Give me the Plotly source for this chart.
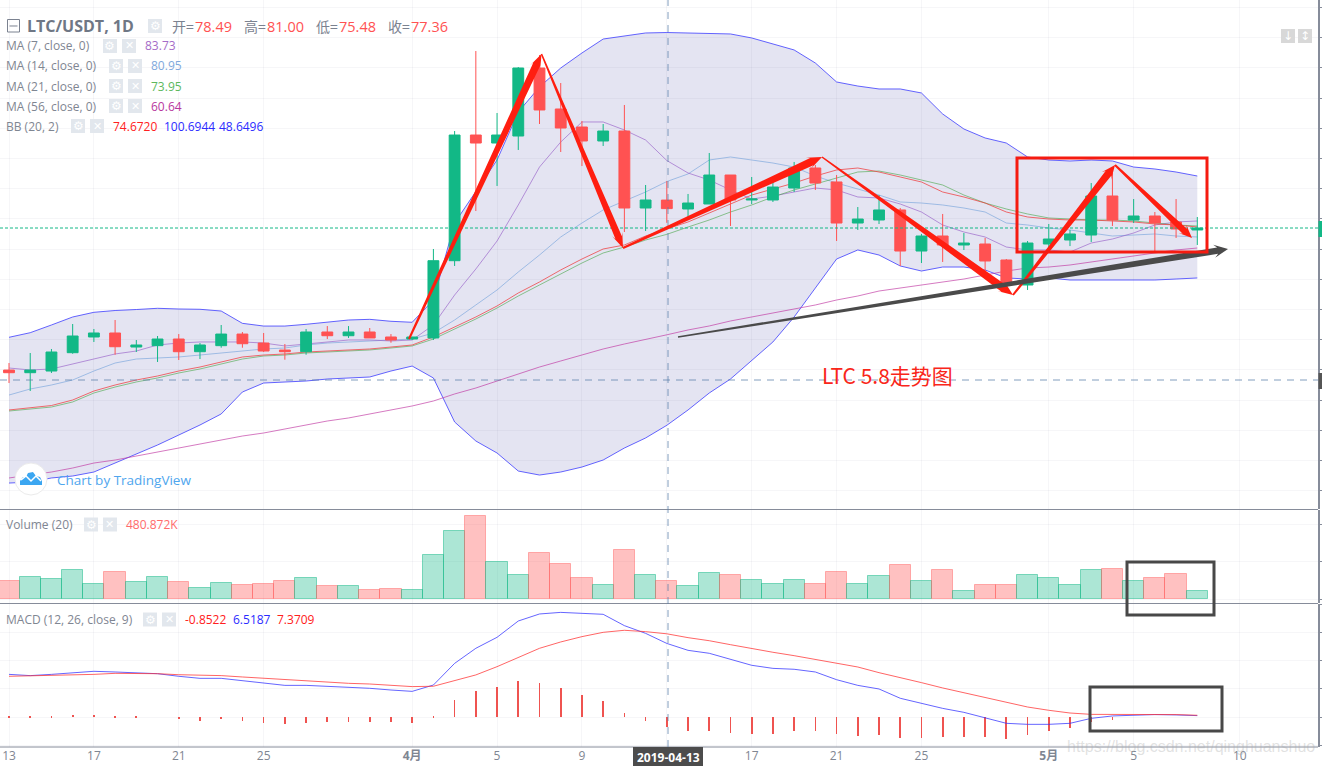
import pandas as pd
import plotly.graph_objects as go

W, H = 1322, 766
dates = [d.strftime("%Y-%m-%d") for d in pd.date_range("2019-03-13", periods=57)]

opens = [55.97,55.62,55.84,58.27,60.35,60.88,59.02,59.2,60.08,58.40,59.2,60.74,59.55,58.62,58.40,61.01,60.52,61.01,60.35,60.08,
         60.22,70.46,87.11,86.05,86.98,95.99,90.56,88.17,86.32,87.64,77.44,78.49,77.31,77.97,81.81,78.50,78.50,80.09,82.74,80.89,
         75.45,75.85,77.18,71.74,73.73,72.54,72.67,70.55,67.24,72.67,73.20,73.86,79.03,75.85,76.38,75.59,74.53]
highs = [56.90,58.23,58.76,62.07,61.41,62.6,59.95,60.48,60.74,59.55,61.94,61.01,60.88,59.42,61.41,61.80,61.80,61.54,60.74,60.35,
         72.01,87.64,98.24,90.03,96.12,97.71,94.0,88.97,88.57,91.09,80.49,81.0,79.30,84.73,81.81,81.55,81.28,83.54,83.14,81.81,
         77.57,79.16,77.44,74.0,76.65,74.13,73.47,70.68,73.07,75.32,74.53,80.75,82.08,78.63,76.91,78.63,76.25]
lows = [54.25,53.19,55.58,58.13,59.69,58.0,58.36,57.04,57.30,57.43,58.93,58.93,58.36,57.34,58.0,60.08,60.22,60.22,59.59,59.95,
        59.95,69.76,77.04,80.36,85.13,88.57,84.86,83.0,85.66,74.26,74.39,75.48,75.85,77.97,75.06,77.97,78.24,79.56,79.83,73.07,
        74.53,75.32,69.76,70.15,70.29,71.88,68.70,67.24,66.58,71.48,72.40,72.94,75.06,75.45,71.74,73.47,72.54]
closes = [55.62,55.97,58.36,60.48,60.88,59.06,59.29,60.08,58.40,59.29,60.74,59.46,58.49,58.40,61.01,60.52,61.01,60.22,59.95,60.35,
          70.46,87.11,86.05,87.11,95.99,90.43,88.04,86.32,87.64,77.44,78.50,77.36,78.10,81.81,78.50,78.63,80.22,82.74,80.75,75.45,
          75.98,77.18,71.74,73.73,72.54,72.80,70.42,67.50,72.80,73.33,74.0,79.03,75.85,76.38,75.45,74.66,74.79]
ma7 = [56.24,55.98,56.11,56.77,57.43,58.1,58.49,59.29,59.55,59.69,59.69,59.69,59.55,59.16,59.42,59.69,59.95,59.95,59.82,59.95,
       61.94,65.91,69.36,73.07,77.84,82.87,86.18,88.84,88.84,87.78,86.45,83.73,82.08,81.15,79.83,78.63,79.03,79.56,80.09,79.83,
       78.9,78.77,77.97,76.91,75.19,74.26,73.6,72.27,71.88,71.88,71.61,72.8,73.33,74.13,75.19,75.59,75.72]
ma14 = [52.66,53.46,53.99,54.65,55.84,56.9,57.43,57.57,57.7,57.96,58.23,58.49,58.76,58.89,59.29,59.55,59.69,59.82,59.95,60.08,
        60.88,62.6,64.59,66.58,68.96,71.21,73.6,75.45,77.18,78.37,79.56,80.95,81.95,83.8,84.2,83.8,83.4,82.87,81.68,80.75,
        79.96,79.16,78.24,78.1,77.84,77.44,76.91,75.45,75.19,74.79,74.53,74.13,73.73,73.86,74.0,73.73,73.6]
ma21 = [50.54,50.81,51.07,51.74,52.93,53.72,54.39,54.92,55.58,56.11,56.77,57.43,57.83,57.96,58.23,58.36,58.49,58.63,58.89,59.16,
        60.08,61.41,62.73,64.19,65.78,67.24,68.7,70.15,71.48,72.27,73.2,73.95,74.92,75.85,76.91,77.84,78.9,79.83,80.62,81.42,
        82.21,82.34,81.81,81.15,80.49,79.16,78.1,77.31,76.65,76.12,75.98,75.85,75.85,75.72,75.45,75.19,75.06]
ma56 = [41.67,42.06,42.46,42.99,43.65,44.05,44.58,45.11,45.64,46.17,46.7,47.23,47.63,48.16,48.69,49.22,49.62,50.15,50.68,51.21,
        51.87,52.8,53.59,54.52,55.44,56.37,57.17,57.96,58.76,59.42,60.08,60.64,61.28,61.81,62.47,63.0,63.53,64.06,64.59,65.25,
        65.78,66.44,66.84,67.24,67.64,68.03,68.56,69.09,69.49,69.62,69.89,70.29,70.68,71.08,71.48,71.88,72.14]
bb_basis = [50.68,50.94,51.27,52.0,53.19,53.99,54.65,55.18,55.84,56.37,57.04,57.7,57.96,58.1,58.36,58.49,58.63,58.76,59.02,59.29,
            60.35,61.67,63.0,64.46,66.18,67.64,69.23,70.68,72.01,72.54,73.73,74.67,75.59,76.78,77.97,79.16,79.96,80.75,81.68,82.48,
            82.74,82.21,81.55,80.89,79.56,78.9,78.1,76.91,76.25,75.98,75.85,75.85,75.72,75.59,75.32,75.19,74.92]
bb_upper = [60.31,60.92,61.94,63.0,63.62,63.86,63.99,64.15,64.06,64.02,63.79,62.16,61.8,61.8,62.03,62.33,62.6,62.69,62.43,62.3,
            65.25,75.45,79.56,83.8,90.16,93.47,95.99,97.98,99.83,100.23,100.63,100.69,100.63,100.56,100.5,99.97,99.17,98.38,96.65,94.14,
            93.6,93.21,93.21,92.68,89.9,87.91,86.72,86.05,84.2,83.8,83.67,83.8,83.67,82.87,82.61,82.21,81.68]
bb_lower = [41.0,41.13,41.67,41.93,42.46,43.65,44.85,46.04,47.36,48.69,50.15,53.06,54.25,54.39,54.52,54.78,54.92,55.05,55.84,56.5,
            54.92,49.09,46.57,44.98,42.59,42.06,42.46,43.12,44.05,45.64,46.97,48.65,50.68,52.93,54.78,57.3,59.69,63.0,66.84,70.68,
            71.88,71.21,69.76,69.09,69.62,69.62,69.23,68.17,68.03,68.17,67.9,67.9,67.9,67.9,67.9,68.03,68.17]
volume = [477,585,531,774,396,720,450,585,450,288,423,369,396,477,558,342,342,234,261,234,
          1179,1827,2232,990,639,1233,936,558,369,1314,639,481,342,693,639,504,396,504,396,720,
          396,612,909,477,774,207,369,369,639,558,369,774,801,477,558,666,207]
macd_line = [3.79,3.68,3.79,3.94,4.06,4.0,3.91,3.85,3.62,3.44,3.44,3.24,3.0,2.82,2.82,2.74,2.65,2.56,2.41,2.29,
             2.85,4.76,6.09,7.06,8.5,9.12,9.26,9.18,9.09,8.09,7.41,6.52,5.91,5.65,5.12,4.59,4.32,4.24,4.0,3.32,
             2.82,2.5,1.68,1.24,0.79,0.44,-0.03,-0.53,-0.62,-0.62,-0.53,-0.09,0.12,0.21,0.24,0.21,0.15]
signal_line = [3.62,3.65,3.71,3.71,3.79,3.88,3.88,3.85,3.76,3.71,3.68,3.56,3.44,3.35,3.26,3.12,3.0,2.94,2.82,2.71,
               2.74,3.24,3.74,4.47,5.29,6.09,6.65,7.12,7.5,7.68,7.56,7.37,7.03,6.76,6.41,6.06,5.74,5.44,5.09,4.76,
               4.44,3.94,3.53,3.06,2.59,2.18,1.74,1.32,0.91,0.62,0.38,0.26,0.26,0.24,0.24,0.24,0.18]
histogram = [0.12,0.05,0.06,0.2,0.2,0.12,0.06,0.0,-0.17,-0.3,-0.17,-0.35,-0.5,-0.55,-0.5,-0.4,-0.4,-0.4,-0.45,-0.5,
             0.12,1.53,2.32,2.68,3.2,3.03,2.59,1.97,1.44,0.38,-0.3,-0.85,-1.2,-1.2,-1.38,-1.47,-1.47,-1.2,-1.2,-1.47,
             -1.65,-1.56,-1.82,-1.82,-1.74,-1.74,-1.74,-1.91,-1.56,-1.2,-0.94,-0.41,-0.24,0.0,0.0,0.0,0.0]
tick_dates = ["2019-03-13","2019-03-17","2019-03-21","2019-03-25","2019-04-01","2019-04-05","2019-04-09","2019-04-13",
              "2019-04-17","2019-04-21","2019-04-25","2019-05-01","2019-05-05","2019-05-10"]
tick_labels = ["13","17","21","25","<b>4月</b>","5","9","","17","21","25","<b>5月</b>","5","10"]

UP, DOWN = "#12B886", "#FF5252"
FONT = "Open Sans, Noto Sans CJK SC, sans-serif"
GRID = "rgba(40,50,90,0.045)"
AXIS = "#868C9A"
GEAR_BG = "#E2E7ED"


def px(x, y):
    return x / W, 1 - y / H


def dom(top, bottom):
    return [1 - bottom / H, 1 - top / H]


fig = go.Figure()
fig.add_trace(go.Scatter(x=dates, y=bb_upper, mode="lines", line=dict(color="rgba(50,50,255,0.75)", width=1), hoverinfo="skip"))
fig.add_trace(go.Scatter(x=dates, y=bb_lower, mode="lines", line=dict(color="rgba(50,50,255,0.75)", width=1),
                         fill="tonexty", fillcolor="rgba(33,33,150,0.12)", hoverinfo="skip"))
for vals, col in [(ma56, "rgba(190,50,160,0.65)"), (ma14, "rgba(120,165,220,0.65)"), (ma7, "rgba(150,95,200,0.65)"),
                  (ma21, "rgba(70,165,70,0.6)"), (bb_basis, "rgba(240,50,50,0.7)")]:
    fig.add_trace(go.Scatter(x=dates, y=vals, mode="lines", line=dict(color=col, width=1), hoverinfo="skip"))
fig.add_trace(go.Candlestick(x=dates, open=opens, high=highs, low=lows, close=closes, yaxis="y4", whiskerwidth=0,
                             increasing=dict(line=dict(color=UP, width=1), fillcolor=UP),
                             decreasing=dict(line=dict(color=DOWN, width=1), fillcolor=DOWN)))
is_up = [c >= o for o, c in zip(opens, closes)]
fig.add_trace(go.Bar(x=dates, y=volume, xaxis="x2", yaxis="y2", width=86400000,
                     marker=dict(color=["rgba(18,184,134,0.35)" if u else "rgba(255,82,82,0.36)" for u in is_up],
                                 line=dict(color=["rgba(18,184,134,0.5)" if u else "rgba(255,82,82,0.42)" for u in is_up], width=1))))
fig.add_trace(go.Bar(x=dates, y=histogram, xaxis="x3", yaxis="y3", width=2800000, marker=dict(color="#EF5350", line=dict(width=0))))
fig.add_trace(go.Scatter(x=dates, y=macd_line, xaxis="x3", yaxis="y3", mode="lines", line=dict(color="rgba(50,50,255,0.75)", width=1)))
fig.add_trace(go.Scatter(x=dates, y=signal_line, xaxis="x3", yaxis="y3", mode="lines", line=dict(color="rgba(255,50,50,0.75)", width=1)))

shapes, notes = [], []


def rect(x0, y0, x1, y1, fill=None, line=None, lw=0, layer="above"):
    a, b = px(x0, y0)
    c, d = px(x1, y1)
    shapes.append(dict(type="rect", xref="paper", yref="paper", x0=a, y0=b, x1=c, y1=d, layer=layer,
                       fillcolor=fill or "rgba(0,0,0,0)", line=dict(color=line or "rgba(0,0,0,0)", width=lw)))


def poly(points, fill, close=True, line=None, lw=0):
    parts = []
    for i, (x, y) in enumerate(points):
        a, b = px(x, y)
        parts.append(f"{'M' if i == 0 else 'L'}{a:.5f},{b:.5f}")
    path = " ".join(parts) + (" Z" if close else "")
    shapes.append(dict(type="path", xref="paper", yref="paper", path=path, fillcolor=fill or "rgba(0,0,0,0)",
                       line=dict(color=line or "rgba(0,0,0,0)", width=lw), layer="above"))


def arrow(x0, y0, x1, y1, w0, w1, head_w, head_l, col):
    dx, dy = x1 - x0, y1 - y0
    L = (dx * dx + dy * dy) ** 0.5
    ux, uy = dx / L, dy / L
    nx, ny = -uy, ux
    bx, by = x1 - ux * head_l, y1 - uy * head_l
    nbx, nby = x1 - ux * head_l * 0.75, y1 - uy * head_l * 0.75
    poly([(x0 + nx * w0 / 2, y0 + ny * w0 / 2), (nbx + nx * w1 / 2, nby + ny * w1 / 2), (bx + nx * head_w / 2, by + ny * head_w / 2),
          (x1, y1), (bx - nx * head_w / 2, by - ny * head_w / 2), (nbx - nx * w1 / 2, nby - ny * w1 / 2), (x0 - nx * w0 / 2, y0 - ny * w0 / 2)], col)


def txt(x, y, s, color, size, family=FONT, anchor="left", opacity=None):
    a, b = px(x, y)
    n = dict(xref="paper", yref="paper", x=a, y=b, text=s, showarrow=False, xanchor=anchor, yanchor="middle",
             font=dict(color=color, size=size, family=family), borderpad=0, borderwidth=0)
    if opacity is not None:
        n["opacity"] = opacity
    notes.append(n)


def icons(x, y):
    rect(x, y - 7, x + 14, y + 7, GEAR_BG)
    rect(x + 19, y - 7, x + 33, y + 7, GEAR_BG)
    txt(x + 7, y, "⚙", "#FFFFFF", 12, "DejaVu Sans", "center")
    txt(x + 26, y, "✕", "#FFFFFF", 11, "DejaVu Sans", "center")


# panel separators and reference lines
for yy in (509.5, 603.5, 747):
    a, b = px(0, yy)
    c, _ = px(1318, yy)
    shapes.append(dict(type="line", xref="paper", yref="paper", x0=a, x1=c, y0=b, y1=b, line=dict(color=AXIS, width=1)))
RANGE_X = ["2019-03-12 13:49", "2019-05-13 16:30"]
shapes.append(dict(type="line", xref="x", yref="y", x0=RANGE_X[0], x1=RANGE_X[1], y0=closes[-1], y1=closes[-1],
                   line=dict(color=UP, width=1, dash="3px,2px"), layer="above"))
shapes.append(dict(type="line", xref="x", yref="y", x0=RANGE_X[0], x1=RANGE_X[1], y0=54.65, y1=54.65,
                   line=dict(color="rgba(90,125,170,0.75)", width=1, dash="7px,6px"), layer="above"))
a, _ = px(668, 0)
shapes.append(dict(type="line", xref="paper", yref="paper", x0=a, x1=a, y0=px(0, 747)[1], y1=1,
                   line=dict(color="rgba(90,125,170,0.75)", width=1, dash="7px,6px"), layer="above"))

# price and time tags
rect(1318.5, 221, 1322, 237, UP)
rect(1318.5, 373, 1322, 389, "#555555")
rect(633, 747, 703, 766, "#4C4C4C")
txt(668, 757.5, "<b>2019-04-13</b>", "#FFFFFF", 12, FONT, "center")

# drawn markup
RED = "#FF1E10"
arrow(409, 339, 541.5, 54, 2, 7.5, 11, 15, RED)
arrow(541.5, 54, 623, 248, 1.5, 7, 11, 15, RED)
arrow(623, 248, 822, 157, 2, 8, 12, 15, RED)
arrow(822, 157, 1013, 295, 1.5, 8, 12, 15, RED)
arrow(1013, 295, 1115, 165, 2, 7.5, 12, 14, RED)
arrow(1115, 165, 1192, 238, 2, 6.5, 11, 13, RED)
arrow(678, 337, 1228, 249, 1.5, 6.5, 13, 14, "#4A4A4A")
rect(1017, 158, 1207, 252, None, "#F51B10", 3)
rect(1127, 562, 1214, 615, None, "#484848", 3)
rect(1090, 687, 1222, 731, None, "#484848", 3)
txt(822, 375, "LTC 5.8走势图", "#F9261A", 21, "Noto Sans CJK SC, sans-serif")
txt(1067, 746, "https://blog.csdn.net/qinghuanshuo", "rgba(170,170,170,0.35)", 16, "Liberation Sans, sans-serif")

# header legend
rect(7.5, 19.5, 19.5, 32, None, "#7B8290", 1)
poly([(9.5, 26), (17.5, 26)], None, close=False, line="#7B8290", lw=1)
txt(27, 26, "<b>LTC/USDT, 1D</b>", "#6F7785", 16)
rect(148, 19, 162, 33, GEAR_BG)
txt(155, 26, "⚙", "#FFFFFF", 12, "DejaVu Sans", "center")
for x_label, x_val, label, val in [(172, 195, "开=", "78.49"), (244, 267, "高=", "81.00"), (316, 339, "低=", "75.48"), (388, 411, "收=", "77.36")]:
    txt(x_label, 26, label, "#7B8290", 14, "Noto Sans CJK SC, sans-serif")
    txt(x_val, 26, val, DOWN, 14.5)

for y, label, icon_x, val, val_x, col in [(46, "MA (7, close, 0)", 103, "83.73", 145, "#A56CC8"), (66, "MA (14, close, 0)", 109, "80.95", 151, "#7FA8DC"),
                                          (86, "MA (21, close, 0)", 109, "73.95", 151, "#5DB85D"), (106, "MA (56, close, 0)", 109, "60.64", 151, "#B8379E")]:
    txt(6, y, label, "#7F8692", 12)
    icons(icon_x, y)
    txt(val_x, y, val, col, 12)
txt(6, 126, "BB (20, 2)", "#7F8692", 12)
icons(71, 126)
txt(113, 126, "74.6720", "#FF2020", 12)
txt(164, 126, "100.6944", "#2B2BFF", 12)
txt(219, 126, "48.6496", "#2B2BFF", 12)

txt(6, 524.5, "Volume (20)", "#7F8692", 12)
icons(84, 524.5)
txt(126, 524.5, "480.872K", "#FF6B6B", 12)
txt(6, 619.5, "MACD (12, 26, close, 9)", "#7F8692", 12)
icons(143, 619.5)
txt(185, 619.5, "-0.8522", "#FF2020", 12)
txt(233, 619.5, "6.5187", "#2B2BFF", 12)
txt(277, 619.5, "7.3709", "#FF2020", 12)

# watermark logo
a0, b0 = px(15, 463)
a1, b1 = px(47, 495)
shapes.append(dict(type="circle", xref="paper", yref="paper", x0=a0, y0=b0, x1=a1, y1=b1, fillcolor="#FFFFFF",
                   line=dict(color="#EBEBEB", width=1), layer="above"))
poly([(20, 485), (20, 481), (23, 477), (26, 477), (28, 473), (33, 472), (36, 476), (40, 477), (42, 481), (42, 485)], "#3BA6F1")
poly([(21, 480), (26, 476), (31, 481), (36, 476), (41, 481)], None, close=False, line="#FFFFFF", lw=1.5)
txt(57, 480, "Chart by TradingView", "#4FA6EE", 13.5)

# chart scroll buttons
rect(1281, 29, 1295, 43, "#D8D8D8")
rect(1298, 29, 1312, 43, "#D8D8D8")
txt(1288, 36, "↓", "#FFFFFF", 12, "DejaVu Sans", "center")
txt(1305, 36, "↕", "#FFFFFF", 12, "DejaVu Sans", "center")

xbase = dict(type="date", range=RANGE_X, domain=[0, 1318 / W], tickvals=tick_dates, ticktext=tick_labels, showgrid=True,
             gridcolor=GRID, gridwidth=1, showline=False, zeroline=False, ticks="", rangeslider=dict(visible=False))
ybase = dict(side="right", showticklabels=False, showgrid=True, gridcolor=GRID, zeroline=False, showline=True,
             linecolor=AXIS, linewidth=1.5, ticks="outside", ticklen=5, tickcolor=AXIS, tickwidth=1)
RANGE_Y = [37.56, 105.0]
fig.update_layout(
    width=W, height=H, margin=dict(l=0, r=0, t=0, b=0), paper_bgcolor="#FFFFFF", plot_bgcolor="#FFFFFF",
    showlegend=False, barmode="overlay", bargap=0, boxgap=0.27, hovermode=False,
    xaxis=dict(xbase, anchor="y", showticklabels=False),
    xaxis2=dict(xbase, anchor="y2", showticklabels=False),
    xaxis3=dict(xbase, anchor="y3", showticklabels=True, tickfont=dict(color="#7F8692", size=12, family=FONT)),
    yaxis=dict(ybase, domain=dom(0, 509), range=RANGE_Y, tick0=0, dtick=4),
    yaxis2=dict(ybase, domain=dom(510, 603), range=[-108, 2403], tick0=0, dtick=1000),
    yaxis3=dict(ybase, domain=dom(604, 747), range=[-2.62, 10.0], tick0=0, dtick=2.5),
    yaxis4=dict(domain=dom(0, 509), range=RANGE_Y, overlaying="y", visible=False),
    shapes=shapes, annotations=notes,
)
fig.write_html("out.html", config={"displayModeBar": False}, post_script="document.body.style.margin='0';document.body.style.overflow='hidden';")
